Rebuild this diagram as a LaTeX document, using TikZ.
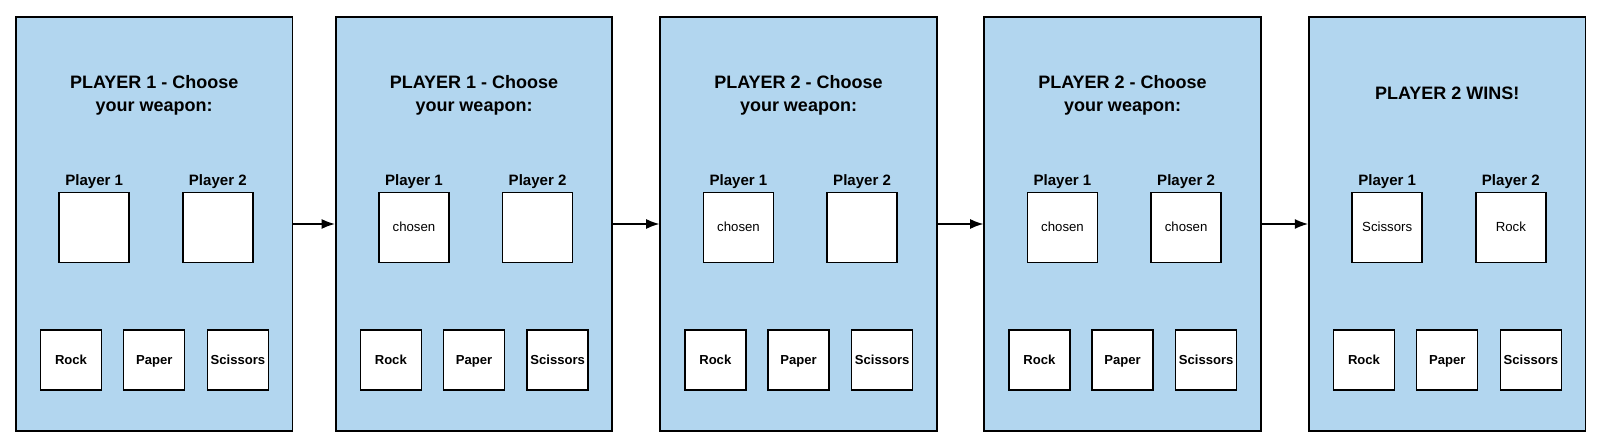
\documentclass[tikz,border=0pt]{standalone}
\usepackage{fontspec}
\setmainfont{Liberation Sans}
\usetikzlibrary{positioning,arrows.meta}
\definecolor{panelblue}{RGB}{178,214,239}

\begin{document}
\begin{tikzpicture}[x=0.025cm, y=-0.025cm,
    panel/.style={draw, line width=1.3pt, fill=panelblue, minimum width=6.91cm, minimum height=10.35cm},
    pick/.style={draw, line width=1.1pt, fill=white, minimum width=1.75cm, minimum height=1.75cm, inner sep=0pt, text height=1.5ex, text depth=0.4ex, font=\fontsize{9.4}{11}\selectfont},
    weapon/.style={draw, line width=1.1pt, fill=white, minimum width=1.525cm, minimum height=1.5cm, inner sep=0pt, text height=1.5ex, text depth=0.4ex, font=\bfseries\fontsize{9.3}{11}\selectfont},
    plabel/.style={inner sep=0pt, font=\bfseries\fontsize{10.7}{12}\selectfont},
    heading/.style={align=center, inner sep=0pt, text depth=0pt, font=\bfseries\fontsize{12.8}{16.3}\selectfont}]
                \useasboundingbox (0,0) rectangle (1600,445);
                \foreach \i/\x/\head/\pa/\pb in {1/154.2/{PLAYER 1 - Choose\\your weapon:}/{}/{},
                                                 2/474/{PLAYER 1 - Choose\\your weapon:}/chosen/{},
                                                 3/798.5/{PLAYER 2 - Choose\\your weapon:}/chosen/{},
                                                 4/1122.5/{PLAYER 2 - Choose\\your weapon:}/chosen/chosen,
                                                 5/1447.2/{PLAYER 2 WINS!}/Scissors/Rock} {
                    \node[panel] (S\i) at (\x, 224) {};
                    \node[heading] (H\i) at (\x, 93.5) {\head};
                    \node[pick] (A\i) at (\x-60, 227.5) {\pa};
                    \node[pick] (B\i) at (\x+63.6, 227.5) {\pb};
                    \node[plabel, above=2pt of A\i] (LA\i) {Player 1};
                    \node[plabel, above=2pt of B\i] (LB\i) {Player 2};
                    \node[weapon] (R\i) at (\x-83.2, 360) {Rock};
                    \node[weapon] (P\i) at (\x, 360) {Paper};
                    \node[weapon] (C\i) at (\x+83.7, 360) {Scissors};
                }
                \foreach \i in {1,...,4} {
                    \pgfmathtruncatemacro{\j}{\i + 1}
                    \draw[line width=1pt, -{Latex[length=0.33cm, width=0.25cm]}] (S\i) -- (S\j);
                }
            \end{tikzpicture}
\end{document}
